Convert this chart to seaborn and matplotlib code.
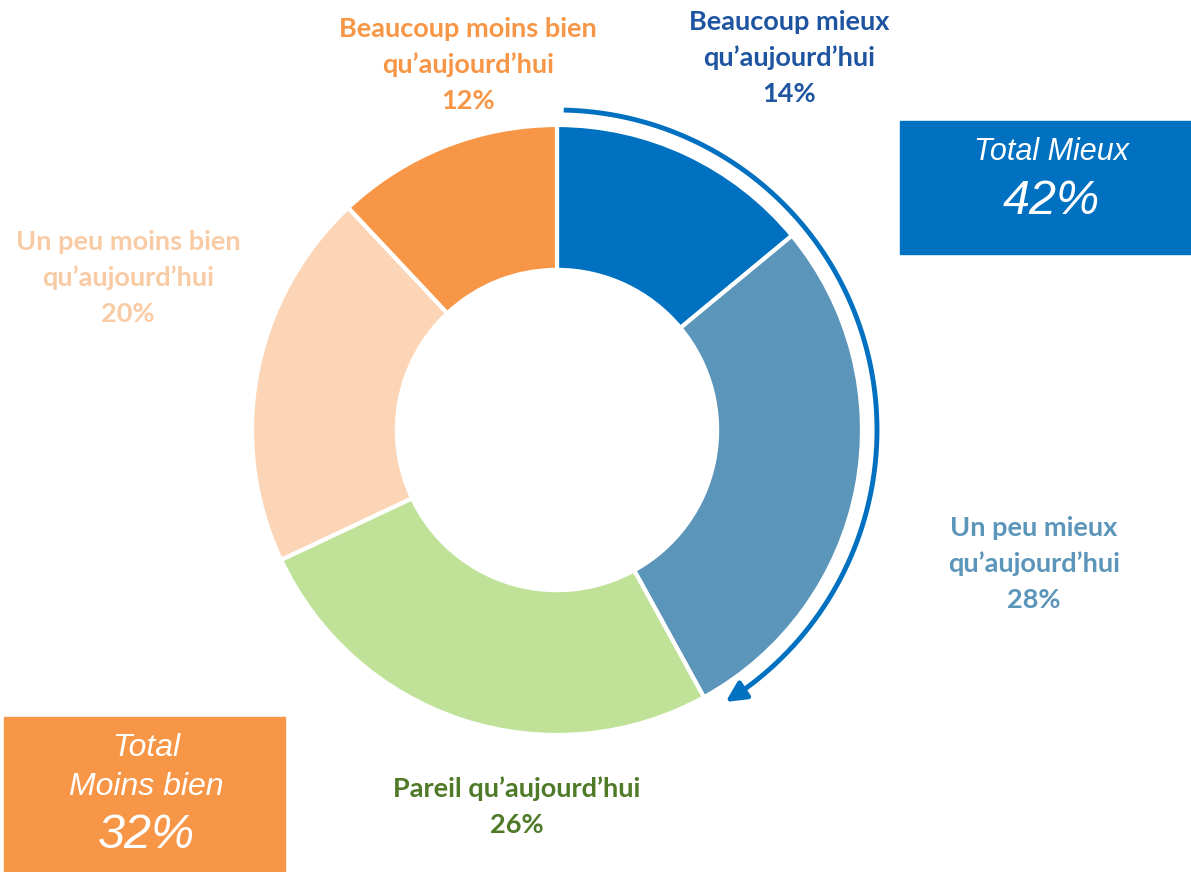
import numpy as np
import matplotlib
matplotlib.use("Agg")
import matplotlib.pyplot as plt
from matplotlib.patches import Rectangle
import seaborn as sns

# data
categories = ["Beaucoup mieux\nqu\u2019aujourd\u2019hui", "Un peu mieux\nqu\u2019aujourd\u2019hui",
              "Pareil qu\u2019aujourd\u2019hui", "Un peu moins bien\nqu\u2019aujourd\u2019hui",
              "Beaucoup moins bien\nqu\u2019aujourd\u2019hui"]
values = [14, 28, 26, 20, 12]
slice_colors = ["#0070C0", "#5B95BA", "#C0E298", "#FBD5B5", "#F79646"]
label_colors = ["#1F55A0", "#5B95BA", "#4F7A28", "#F9CBA4", "#F79646"]
total_mieux = 42
total_moins = 32

sns.set_theme(style="white")
plt.rcParams['font.family'] = ['Lato', 'DejaVu Sans']

W, H = 1191, 872
fig = plt.figure(figsize=(W / 100, H / 100), dpi=100)
ax = fig.add_axes([0, 0, 1, 1])

cx, cy, R = 557, H - 430, 305
ax.pie(values, colors=slice_colors, startangle=90, counterclock=False,
       center=(cx, cy), radius=R, frame=True,
       wedgeprops=dict(width=R * 0.475, edgecolor="white", linewidth=3))
ax.set_xlim(0, W)
ax.set_ylim(0, H)
ax.set_aspect("equal")
ax.axis("off")

# labels: x center and y of first line (pixels from top), 35.5 px between lines
label_pos = [(789, 22), (1034, 528), (517, 789), (128, 242), (468, 29)]
for cat, v, col, (lx, ly) in zip(categories, values, label_colors, label_pos):
    lines = cat.split("\n") + [f"{v}%"]
    for i, line in enumerate(lines):
        ax.text(lx, H - (ly + i * 36), line, ha="center", va="center", color=col,
                fontsize=19.5, fontweight="bold")

# arrow around the "mieux" slices
ra = 320
a0 = 90 - 1.2
a1 = 90 - 360 * (values[0] + values[1]) / 100 + 3
th = np.radians(np.linspace(a0, a1 + 2, 200))
ax.plot(cx + ra * np.cos(th), cy + ra * np.sin(th), color="#0070C0", lw=3.5,
        solid_capstyle="butt")
tb = np.radians(a1 + 3)
te = np.radians(a1)
ax.annotate("", xy=(cx + ra * np.cos(te), cy + ra * np.sin(te)),
            xytext=(cx + ra * np.cos(tb), cy + ra * np.sin(tb)),
            arrowprops=dict(arrowstyle="-|>,head_length=1.0,head_width=0.5",
                            color="#0070C0", lw=3.5, shrinkA=0, shrinkB=0))

# total boxes
box_font = ['Liberation Sans', 'DejaVu Sans']
ax.add_patch(Rectangle((900, H - 254), 291, 133, color="#0070C0", zorder=3))
ax.text(1051, H - 152, "Total Mieux", ha="center", va="center", color="white",
        fontsize=22, style="italic", family=box_font, zorder=4)
ax.text(1051, H - 201, f"{total_mieux}%", ha="center", va="center", color="white",
        fontsize=35, style="italic", family=box_font, zorder=4)

ax.add_patch(Rectangle((4, 0), 281, H - 717, color="#F79646", zorder=3))
ax.text(146, H - 748, "Total", ha="center", va="center", color="white",
        fontsize=23, style="italic", family=box_font, zorder=4)
ax.text(146, H - 787, "Moins bien", ha="center", va="center", color="white",
        fontsize=23, style="italic", family=box_font, zorder=4)
ax.text(146, H - 835, f"{total_moins}%", ha="center", va="center", color="white",
        fontsize=35, style="italic", family=box_font, zorder=4)

fig.savefig("out.png", dpi=100)
